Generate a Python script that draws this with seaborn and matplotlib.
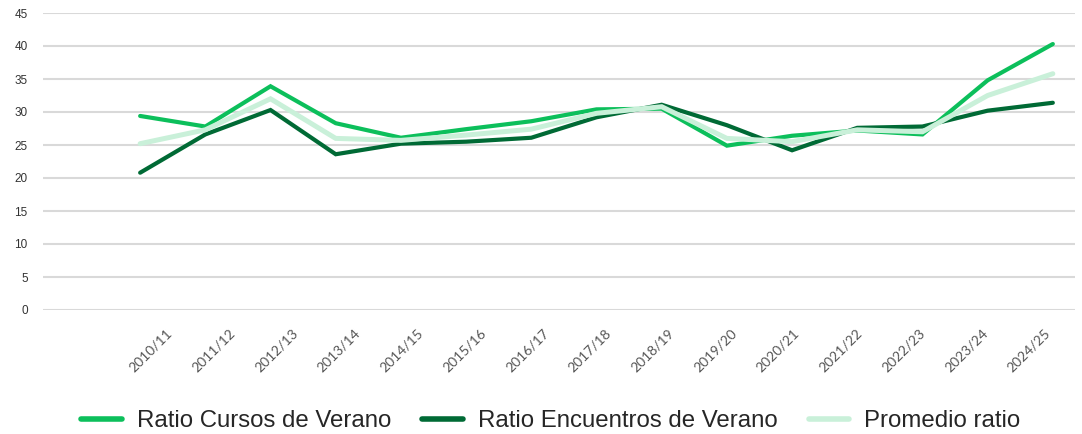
import pandas as pd
import seaborn as sns
import matplotlib
matplotlib.use("Agg")
import matplotlib.pyplot as plt

cursos_escolares = ["2010/11", "2011/12", "2012/13", "2013/14", "2014/15", "2015/16",
                    "2016/17", "2017/18", "2018/19", "2019/20", "2020/21", "2021/22",
                    "2022/23", "2023/24", "2024/25"]
ratio_cursos = [29.4, 27.8, 33.9, 28.3, 26.1, 27.4, 28.6, 30.4, 30.5, 24.9, 26.4, 27.2, 26.6, 34.8, 40.3]
ratio_encuentros = [20.8, 26.6, 30.3, 23.6, 25.2, 25.5, 26.1, 29.2, 31.1, 28.0, 24.2, 27.6, 27.8, 30.2, 31.4]
promedio_ratio = [25.2, 27.3, 32.0, 26.0, 25.7, 26.5, 27.4, 29.8, 30.8, 26.0, 25.5, 27.3, 27.0, 32.5, 35.8]

series = ["Ratio Cursos de Verano", "Ratio Encuentros de Verano", "Promedio ratio"]
colores = ["#0cbf5b", "#006a35", "#c9f0d9"]

filas = []
for nombre, valores in zip(series, [ratio_cursos, ratio_encuentros, promedio_ratio]):
    for i, v in enumerate(valores):
        filas.append({"idx": i, "curso": cursos_escolares[i], "serie": nombre, "valor": v})
mydf = pd.DataFrame(filas)

sns.set_style("white")
plt.rcParams['font.family'] = ['Liberation Sans', 'DejaVu Sans']

fig = plt.figure(figsize=(10.82, 4.34), dpi=100)
ax = fig.add_axes([43 / 1082, 1 - 310 / 434, (1075 - 43) / 1082, (310 - 13) / 434])

# la serie promedio va detras
for k in [2, 1, 0]:
    d = mydf[mydf["serie"] == series[k]]
    sns.lineplot(data=d, x="idx", y="valor", color=colores[k], linewidth=3.0 if k < 2 else 3.6,
                 ax=ax, label=series[k], solid_capstyle="round", solid_joinstyle="miter", zorder=3 + k)

ax.set_ylim(0, 45)
ax.set_yticks(range(0, 46, 5))
ax.set_xlim(-1.49, 14.34)
ax.set_xticks(range(len(cursos_escolares)))
ax.set_xticklabels([])
# etiquetas del eje x giradas; en el original van algo mas juntas que los puntos
for i, c in enumerate(cursos_escolares):
    ax.annotate(c, xy=(0.46 + 0.962 * i, 0), xycoords=("data", "axes fraction"), xytext=(0, -21),
                textcoords="offset pixels", rotation=45, rotation_mode="anchor",
                ha="right", va="center", fontsize=10, color="#555555",
                family=["Lato", "DejaVu Sans"], annotation_clip=False)
ax.tick_params(axis="x", length=0)
ax.tick_params(axis="y", length=0, pad=11, labelsize=8.5, labelcolor="#333333")
ax.grid(axis="y", color="#d9d9d9", linewidth=1.5)
ax.grid(axis="x", visible=False)
for s in ax.spines.values():
    s.set_visible(False)
ax.set_xlabel("")
ax.set_ylabel("")

handles, labels = ax.get_legend_handles_labels()
mapa = dict(zip(labels, handles))
ax.get_legend().remove()
leg = fig.legend([mapa[s] for s in series], series, loc="center", bbox_to_anchor=(0.509, 0.03),
                 ncol=3, frameon=False, fontsize=17.3, handlelength=1.7, handletextpad=0.6,
                 columnspacing=1.3)
for h in leg.get_lines():
    h.set_linewidth(4)
    h.set_solid_capstyle("round")

fig.savefig("out.png", dpi=100)
